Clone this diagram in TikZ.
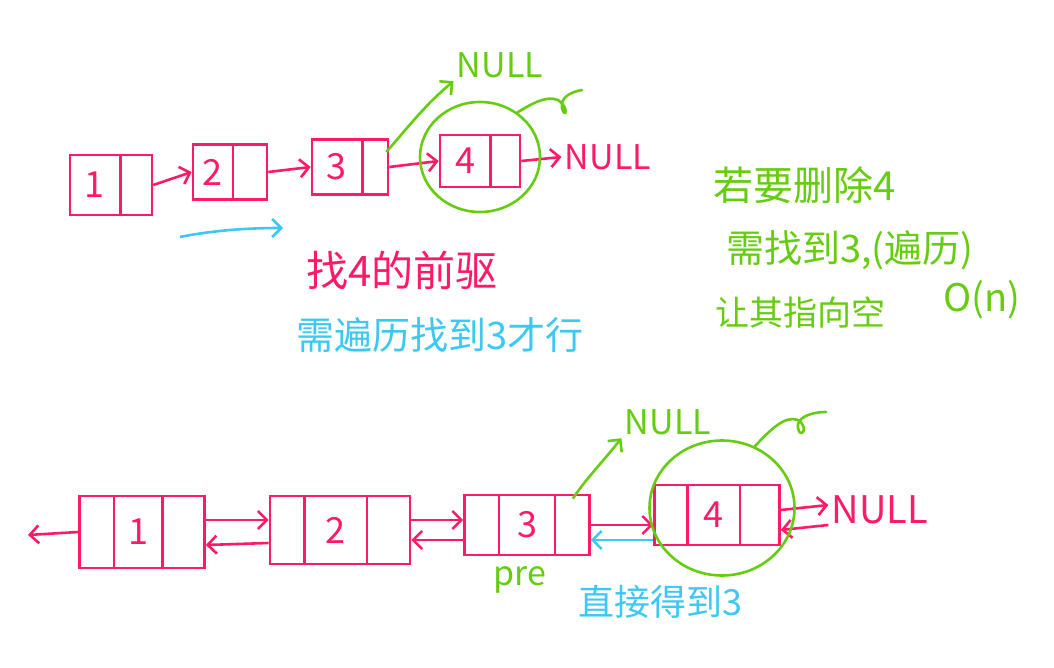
\documentclass[tikz,border=0pt]{standalone}
\usepackage{fontspec}
\setmainfont{Noto Sans CJK SC}
\usetikzlibrary{arrows.meta,calc,shapes.geometric}
\definecolor{pk}{HTML}{FF1A66}
\definecolor{gr}{HTML}{66CC11}
\definecolor{cy}{HTML}{3CC8F2}
\newcommand\dv[2]{\draw[cellline] ($(#1.north west)!#2!(#1.north east)$) -- ($(#1.south west)!#2!(#1.south east)$);}
\begin{document}
\begin{tikzpicture}[x=1pt,y=-1pt,
  cell/.style={draw=pk, line width=2.6pt, inner sep=0pt, rectangle},
  cellline/.style={draw=pk, line width=2.6pt},
  val/.style={text=pk, font=\fontsize{36}{42}\selectfont},
  tip/.style={-{Straight Barb[length=9pt,width=18pt]}},
  parr/.style={draw=pk, line width=2.6pt, tip},
  garr/.style={draw=gr, line width=2.6pt, tip},
  carr/.style={draw=cy, line width=2.6pt, tip},
  ring/.style={draw=gr, line width=2.6pt, ellipse, inner sep=0pt},
  curl/.style={draw=gr, line width=2.6pt, line cap=round},
  pnull/.style={text=pk, font=\fontsize{34}{40}\selectfont},
  gnull/.style={text=gr, font=\fontsize{34}{40}\selectfont},
  ptext/.style={text=pk, font=\fontsize{42}{48}\selectfont},
  ctext/.style={text=cy, font=\fontsize{38}{44}\selectfont},
  gtext/.style={text=gr, font=\fontsize{38}{44}\selectfont}]
\useasboundingbox (0,0) rectangle (1054,668);

% ---------- top singly linked list ----------
\node[cell, minimum width=82pt, minimum height=60pt] (t1) at (111,185) {};
\node[cell, minimum width=74pt, minimum height=55pt] (t2) at (230,172) {};
\node[cell, minimum width=76pt, minimum height=55pt] (t3) at (350,167) {};
\node[cell, minimum width=80pt, minimum height=52pt] (t4) at (480,161) {};
\dv{t1}{0.61}\dv{t2}{0.54}\dv{t3}{0.66}\dv{t4}{0.63}
\node[val] (t1v) at ($(t1.west)!0.3!(t1.east)$) {1};
\node[val] (t2v) at ($(t2.west)!0.27!(t2.east)$) {2};
\node[val] (t3v) at ($(t3.west)!0.33!(t3.east)$) {3};
\node[val] (t4v) at ($(t4.west)!0.32!(t4.east)$) {4};
\node[pnull] (tnull) at (608,157) {NULL};
\draw[parr] (t1.east) -- (t2.west);
\draw[parr] (t2.east) -- (t3.west);
\draw[parr] (t3.east) -- (t4.west);
\draw[parr] (t4.east) -- (tnull.west);
\node[ring, minimum width=120pt, minimum height=110pt] (c4) at (480,157) {};
\draw[curl] (c4.50) .. controls (530,105) and (545,95) .. (558,100)
  .. controls (570,108) and (565,120) .. (562,108) .. controls (560,98) and (570,92) .. (582,90);
\node[gnull] (tgnull) at (500,65) {NULL};
\draw[garr] ($(t3.east)+(-3,-15)$) .. controls (410,125) and (425,105) .. (tgnull.south west);
\coordinate (ca) at (180,237);
\coordinate (cb) at (283,228);
\draw[carr] (ca) .. controls (215,230) and (250,228) .. (cb);

\node[ptext] (lab1) at (402,270) {找4的前驱};
\node[ctext] (lab2) at (440,335) {需遍历找到3才行};
\node[gtext, font=\fontsize{40}{46}\selectfont] (lab3) at (805,185) {若要删除4};
\node[gtext] (lab4) at (850,250) {需找到3,(遍历)};
\node[gtext, font=\fontsize{34}{40}\selectfont] (lab5) at (800,312) {让其指向空};
\node[gtext] (lab6) at (982,300) {O(n)};

% ---------- bottom doubly linked list ----------
\node[cell, minimum width=125pt, minimum height=72pt] (b1) at (142,532) {};
\node[cell, minimum width=140pt, minimum height=68pt] (b2) at (340,530) {};
\node[cell, minimum width=125pt, minimum height=60pt] (b3) at (527,525) {};
\node[cell, minimum width=125pt, minimum height=60pt] (b4) at (717,515) {};
\dv{b1}{0.28}\dv{b1}{0.66}
\dv{b2}{0.25}\dv{b2}{0.69}
\dv{b3}{0.28}\dv{b3}{0.72}
\dv{b4}{0.27}\dv{b4}{0.68}
\node[val] (b1v) at ($(b1.west)!0.47!(b1.east)$) {1};
\node[val] (b2v) at ($(b2.west)!0.47!(b2.east)$) {2};
\node[val] (b3v) at ($(b3.west)!0.5!(b3.east)$) {3};
\node[val] (b4v) at ($(b4.west)!0.47!(b4.east)$) {4};
\coordinate (bl) at (28,535);
\draw[parr] (b1.west) -- (bl);
\draw[parr] ([yshift=12pt]b1.east) -- ([yshift=10pt]b2.west);
\draw[parr] ([yshift=-13pt]b2.west) -- ([yshift=-13pt]b1.east);
\draw[parr] ([yshift=10pt]b2.east) -- ([yshift=5pt]b3.west);
\draw[parr] ([yshift=-15pt]b3.west) -- ([yshift=-10pt]b2.east);
\draw[parr] ([yshift=0pt]b3.east) -- ([yshift=-10pt]b4.west);
\draw[carr] ([yshift=-25pt]b4.west) -- ([yshift=-15pt]b3.east);
\node[pnull, font=\fontsize{38}{44}\selectfont] (bnull) at (880,510) {NULL};
\draw[parr] ([yshift=5pt]b4.east) -- ([yshift=5pt]bnull.west);
\draw[parr] ([yshift=-15pt]bnull.west) -- ([yshift=-15pt]b4.east);
\node[ring, minimum width=145pt, minimum height=135pt] (c4b) at (722,508) {};
\draw[curl] (c4b.62) .. controls (770,430) and (785,415) .. (798,420)
  .. controls (810,428) and (800,440) .. (798,428) .. controls (796,418) and (810,412) .. (826,412);
\node[gnull] (bgnull) at (668,422) {NULL};
\draw[garr] ($(b3.north east)+(-18,5)$) .. controls (585,480) and (600,465) .. (bgnull.south west);
\node[gtext, font=\fontsize{34}{40}\selectfont] (pre) at (520,580) {pre};
\node[ctext, font=\fontsize{36}{42}\selectfont] (lab7) at (660,602) {直接得到3};
\end{tikzpicture}
\end{document}
